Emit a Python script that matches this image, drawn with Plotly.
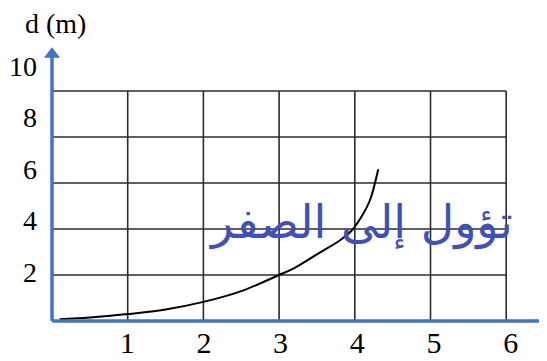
import plotly.graph_objs as go

# data
t = [0.1, 0.5, 1.0, 1.5, 2.0, 2.5, 3.0, 3.2, 3.5, 3.8, 3.95, 4.1, 4.2, 4.31]
d = [0.08, 0.15, 0.3, 0.5, 0.83, 1.3, 2.0, 2.3, 2.9, 3.5, 3.9, 4.6, 5.25, 6.6]
x_ticks = [1, 2, 3, 4, 5, 6]
y_ticks = [2, 4, 6, 8, 10]
grid_x = [0, 1, 2, 3, 4, 5, 6]
grid_y = [0, 2, 4, 6, 8, 10]
note = "تؤول إلى الصفر"
y_title = "d (m)"

blue = "#4472C4"
serif = "Liberation Serif"

# grid lines, only over the 0..6 x 0..10 box
gx, gy = [], []
for v in grid_x[1:]:
    gx += [v, v, None]
    gy += [grid_y[0], grid_y[-1], None]
for v in grid_y[1:]:
    gx += [grid_x[0], grid_x[-1], None]
    gy += [v, v, None]

x_end = 6.5
y_end = 11.8

fig = go.Figure()
fig.add_trace(go.Scatter(x=gx, y=gy, mode="lines", line=dict(color="#2b2b2b", width=1.6), hoverinfo="skip"))
fig.add_trace(go.Scatter(x=t, y=d, mode="lines", line=dict(color="black", width=2, shape="spline"), hoverinfo="skip"))
# blue axes with arrow heads
fig.add_trace(go.Scatter(x=[0, 0, None, 0, x_end], y=[y_end, 0, None, 0, 0], mode="lines",
                         line=dict(color=blue, width=3.5), hoverinfo="skip"))
fig.add_trace(go.Scatter(x=[0], y=[y_end - 0.2], mode="markers",
                         marker=dict(symbol="triangle-up", size=14, color=blue), hoverinfo="skip"))
fig.add_trace(go.Scatter(x=[x_end + 0.02], y=[0], mode="markers",
                         marker=dict(symbol="triangle-right", size=14, color=blue), hoverinfo="skip"))
# invisible traces to carry the label axes
fig.add_trace(go.Scatter(x=x_ticks, y=[0] * len(x_ticks), xaxis="x2", yaxis="y", mode="markers",
                         marker=dict(opacity=0), hoverinfo="skip"))
fig.add_trace(go.Scatter(x=[0] * len(y_ticks), y=y_ticks, xaxis="x", yaxis="y2", mode="markers",
                         marker=dict(opacity=0), hoverinfo="skip"))

# page body has an 8px margin, so the figure is 8px smaller than the window
fig.update_layout(
    width=539, height=353,
    margin=dict(l=30, r=0, t=32, b=30),
    paper_bgcolor="white", plot_bgcolor="white",
    showlegend=False,
    xaxis=dict(range=[-0.185, 6.539], showgrid=False, zeroline=False, showticklabels=False, showline=False,
               automargin=False),
    yaxis=dict(range=[-0.435, 12.217], showgrid=False, zeroline=False, showticklabels=False, showline=False,
               automargin=False),
    xaxis2=dict(range=[-0.163, 6.473], overlaying="x", side="bottom", showgrid=False, zeroline=False,
                tickvals=x_ticks, tickfont=dict(family=serif, size=30, color="black"), showline=False,
                automargin=False, ticklabelstandoff=-9),
    yaxis2=dict(range=[-0.291, 11.01], overlaying="y", side="left", showgrid=False, zeroline=False,
                tickvals=y_ticks, tickfont=dict(family=serif, size=28, color="black"), showline=False,
                automargin=False, ticklabelstandoff=0),
    annotations=[
        dict(text=y_title, xref="paper", yref="paper", x=-0.03, y=1.055, xanchor="left", yanchor="middle",
             showarrow=False, font=dict(family=serif, size=28, color="black")),
        dict(text=note, xref="x", yref="y", x=2.05, y=4.3, xanchor="left", yanchor="middle",
             showarrow=False, font=dict(family="DejaVu Sans", size=46, color="#3F51B5")),
    ],
)

fig.write_html("out.html")
